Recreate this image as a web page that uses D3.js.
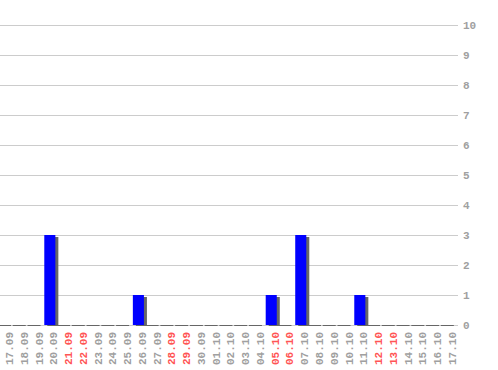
<!DOCTYPE html>
<html><head><meta charset="utf-8">
<script src="https://cdn.jsdelivr.net/npm/d3@7"></script>
<style>body{margin:0;background:#fff}svg{display:block}</style>
</head><body>
<svg id="c" width="498" height="370"></svg>
<script>
const dates = ["17.09","18.09","19.09","20.09","21.09","22.09","23.09","24.09","25.09","26.09","27.09","28.09","29.09","30.09","01.10","02.10","03.10","04.10","05.10","06.10","07.10","08.10","09.10","10.10","11.10","12.10","13.10","14.10","15.10","16.10","17.10"];
const values = [0,0,0,3,0,0,0,0,0,1,0,0,0,0,0,0,0,0,1,0,3,0,0,0,1,0,0,0,0,0,0];
const weekend = ["21.09","22.09","28.09","29.09","05.10","06.10","12.10","13.10"];
const yTicks = [0,1,2,3,4,5,6,7,8,9,10];

const svg = d3.select("#c");
const x = d3.scaleBand().domain(dates).range([0, 457.6]).padding(0);
const y = d3.scaleLinear().domain([0,10]).range([325,25]);
const bw = x.bandwidth()*0.75;

// gridlines
svg.append("g").selectAll("line").data(yTicks).join("line")
  .attr("x1",0).attr("x2",458).attr("y1",d=>Math.round(y(d))+0.5).attr("y2",d=>Math.round(y(d))+0.5)
  .attr("stroke","#cccccc").attr("stroke-width",1);

// y labels
svg.append("g").selectAll("text").data(yTicks).join("text")
  .attr("x",463).attr("y",d=>y(d)+4)
  .attr("font-family","Liberation Mono, DejaVu Sans Mono, monospace")
  .attr("font-size",11).attr("font-weight","bold").attr("fill","#a0a0a0")
  .text(d=>d);

const data = dates.map((d,i)=>({d,v:values[i]}));

// zero segments
svg.append("g").selectAll("rect").data(data.filter(e=>e.v===0)).join("rect")
  .attr("x",e=>x(e.d)-2).attr("y",325).attr("width",13).attr("height",1)
  .attr("fill","#666666");

// shadows
svg.append("g").selectAll("rect").data(data.filter(e=>e.v>0)).join("rect")
  .attr("x",e=>x(e.d)+3).attr("y",e=>y(e.v)+2).attr("width",bw).attr("height",e=>y(0)-y(e.v)-1)
  .attr("fill","#666666");
// bars
svg.append("g").selectAll("rect").data(data.filter(e=>e.v>0)).join("rect")
  .attr("x",e=>x(e.d)).attr("y",e=>y(e.v)).attr("width",bw).attr("height",e=>y(0)-y(e.v))
  .attr("fill","#0000ff");

// x labels
svg.append("g").selectAll("text").data(dates).join("text")
  .attr("transform",d=>`translate(${x(d)+13},332) rotate(-90)`)
  .attr("text-anchor","end")
  .attr("font-family","Liberation Mono, DejaVu Sans Mono, monospace")
  .attr("font-size",11).attr("font-weight","bold")
  .attr("fill",d=>weekend.includes(d)?"#ff5555":"#a0a0a0")
  .text(d=>d);
</script>
</body></html>
